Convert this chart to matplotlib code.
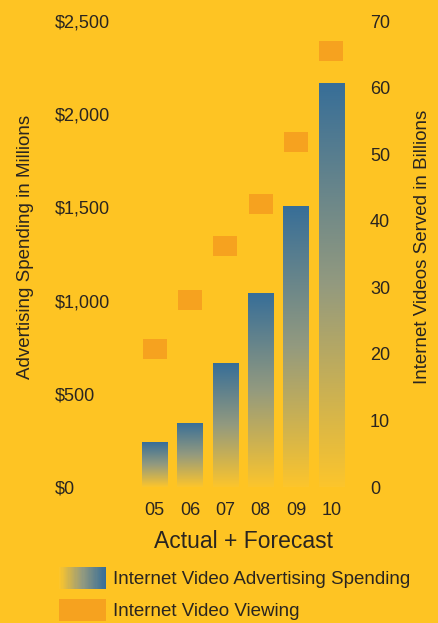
import numpy as np
import matplotlib
matplotlib.use("Agg")
import matplotlib.pyplot as plt
from matplotlib.colors import LinearSegmentedColormap
from matplotlib.patches import Rectangle, Patch
from matplotlib.legend_handler import HandlerBase

years = ["05", "06", "07", "08", "09", "10"]
ad_spending = [240, 345, 665, 1040, 1510, 2170]       # $ millions
videos_served = [20.7, 28.1, 36.2, 42.5, 51.8, 65.5]  # billions
left_ticks = [0, 500, 1000, 1500, 2000, 2500]
left_labels = ["$0", "$500", "$1,000", "$1,500", "$2,000", "$2,500"]
right_ticks = [0, 10, 20, 30, 40, 50, 60, 70]

bg = "#FEC423"
orange = "#F6A21F"
txt = "#2A2520"
grad = LinearSegmentedColormap.from_list(
    "grad", [(0.0, "#FCC52C"), (0.5, "#939A7F"), (1.0, "#376E98")])

plt.rcParams['font.family'] = ['Liberation Sans', 'DejaVu Sans']

W, H = 438, 623
fig = plt.figure(figsize=(W / 100, H / 100), dpi=100, facecolor=bg)
ax = fig.add_axes([130 / W, (H - 487) / H, 226 / W, 466 / H])
ax.set_facecolor("none")
ax2 = ax.twinx()

x = np.arange(len(years))
bw = 0.71
bars = ax.bar(x, ad_spending, width=bw, color="none", edgecolor="none")
g = np.linspace(0, 1, 256).reshape(-1, 1)
for b in bars:
    im = ax.imshow(g, cmap=grad, origin="lower", aspect="auto",
                   extent=[b.get_x(), b.get_x() + b.get_width(), 0, b.get_height()])
    im.set_clip_path(b)

rect = [(-1.2, -1), (1.2, -1), (1.2, 1), (-1.2, 1), (-1.2, -1)]
ax2.plot(x, videos_served, linestyle="none", marker=rect, markersize=17.3,
         color=orange, markeredgewidth=0)

ax.set_xlim(-0.7, 5.7)
ax.set_ylim(0, 2500)
ax2.set_ylim(0, 70)

for a in (ax, ax2):
    for s in a.spines.values():
        s.set_visible(False)

ax.set_xticks(x)
ax.set_xticklabels(years)
ax.tick_params(axis="x", length=0, pad=11, labelsize=13, labelcolor=txt)
ax.set_yticks(left_ticks)
ax.set_yticklabels(left_labels)
ax.tick_params(axis="y", length=0, pad=54, labelsize=13, labelcolor=txt)
plt.setp(ax.get_yticklabels(), ha="left")
ax2.set_yticks(right_ticks)
ax2.tick_params(axis="y", length=0, pad=10, labelsize=13, labelcolor=txt)

ax.set_xlabel("Actual + Forecast", fontsize=16.5, color=txt, labelpad=8)
ax.set_ylabel("Advertising Spending in Millions", fontsize=13.5, color=txt)
ax.yaxis.set_label_coords(-0.425, 0.516)
ax2.set_ylabel("Internet Videos Served in Billions", fontsize=13.5, color=txt)
ax2.yaxis.set_label_coords(1.257, 0.516)


class GradientHandler(HandlerBase):
    def create_artists(self, legend, orig_handle, xdescent, ydescent,
                       width, height, fontsize, trans):
        n = 40
        out = []
        for i in range(n):
            out.append(Rectangle((-xdescent + width * i / n, -ydescent),
                                 width / n * 1.05, height,
                                 facecolor=grad(i / (n - 1)), edgecolor="none",
                                 transform=trans))
        return out


h1 = Patch(facecolor="#376E98")
h2 = Patch(facecolor=orange, edgecolor="none")
fig.legend([h1, h2], ["Internet Video Advertising Spending", "Internet Video Viewing"],
           handler_map={h1: GradientHandler()},
           loc="upper left", bbox_to_anchor=(59 / W, 1 - 567 / H),
           frameon=False, borderpad=0, borderaxespad=0, fontsize=13.5,
           handlelength=2.5, handleheight=1.4, handletextpad=0.4,
           labelspacing=0.55, labelcolor=txt)

fig.savefig("out.png", dpi=100, facecolor=bg)
